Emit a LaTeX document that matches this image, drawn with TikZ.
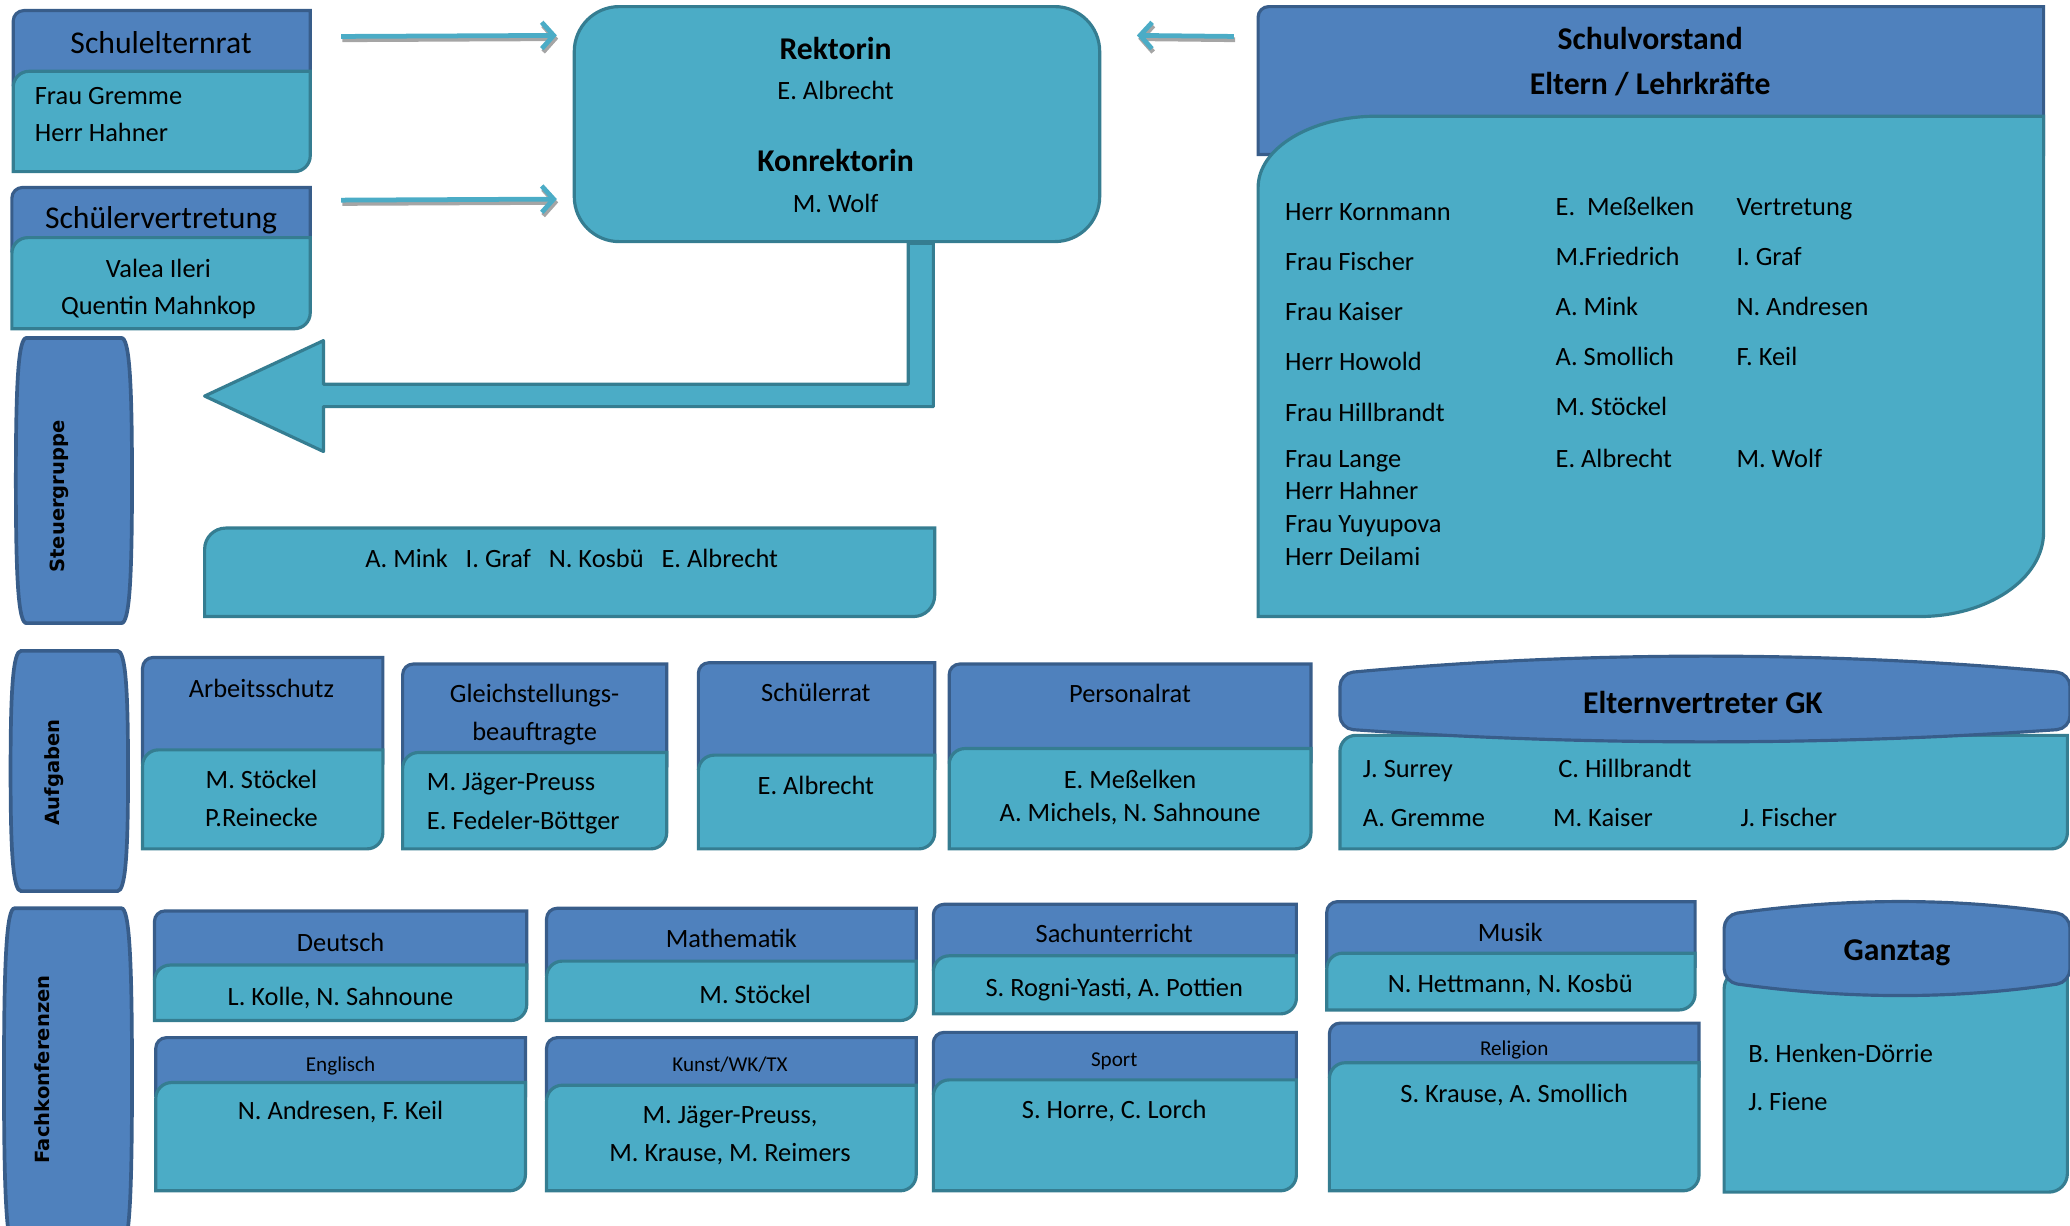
\documentclass[tikz,border=0pt]{standalone}
\usepackage{fontspec}
\setmainfont{Carlito}
\newfontfamily\pillfont{DejaVu Sans}
\usetikzlibrary{arrows.meta,fit}
\definecolor{hdblue}{HTML}{4F81BD}
\definecolor{hdline}{HTML}{385D8A}
\definecolor{bdteal}{HTML}{4BACC6}
\definecolor{bdline}{HTML}{357D91}
\definecolor{shade}{HTML}{A5A5A5}
\frenchspacing
\newcommand{\tabbody}[5]{\draw[bodybox] (#1,#4) -- (#1,{#2+#5}) arc[start angle=180,end angle=270,radius=#5] -- (#3,#2) -- (#3,{#4-#5}) arc[start angle=0,end angle=90,radius=#5] -- cycle;}
\newcommand{\tabbox}[6]{%
  \draw[headbox] (#2,{#5+10}) -- (#2,{#3+8}) arc[start angle=180,end angle=270,radius=8] -- (#4,#3) -- (#4,{#5+10}) -- cycle;
  \tabbody{#2}{#5}{#4}{#6}{12}
  \node[fit={(#2,#3) (#4,#6)},inner sep=0pt] (#1) {};}
\newcommand{\pillshape}[4]{\draw[pillbox] ({#1+8},#2) -- ({#3-8},#2) .. controls ({#3-2},#2) and (#3,{#2+(#4-#2)*0.15}) .. (#3,{(#2+#4)/2}) .. controls (#3,{#4-(#4-#2)*0.15}) and ({#3-2},#4) .. ({#3-8},#4) -- ({#1+8},#4) .. controls ({#1+2},#4) and (#1,{#4-(#4-#2)*0.15}) .. (#1,{(#2+#4)/2}) .. controls (#1,{#2+(#4-#2)*0.15}) and ({#1+2},#2) .. ({#1+8},#2) -- cycle;}
\begin{document}
\begin{tikzpicture}[x=0.5pt,y=-0.5pt,
    headbox/.style={fill=hdblue,draw=hdline,line width=1.2pt},
    bodybox/.style={fill=bdteal,draw=bdline,line width=1.2pt},
    pillbox/.style={fill=hdblue,draw=hdline,line width=1.4pt},
    rektorbox/.style={bodybox,rounded corners=17pt,minimum width=199pt,minimum height=89pt,inner sep=0pt},
    txt/.style={inner sep=0pt,text height=7.5pt,text depth=1.5pt,font=\fontsize{10}{12}\selectfont},
    lft/.style={txt,anchor=west},
    ttl/.style={inner sep=0pt,text height=9pt,text depth=1.8pt,font=\fontsize{12}{14}\selectfont},
    btl/.style={ttl,font=\bfseries\fontsize{12}{14}\selectfont},
    sml/.style={inner sep=0pt,text height=6pt,text depth=1.2pt,font=\fontsize{8}{10}\selectfont},
    piltxt/.style={rotate=90,inner sep=0pt,font=\pillfont\bfseries\fontsize{7.4}{9}\selectfont},
    linkarrow/.style={draw=bdteal,line width=1.8pt,-{Straight Barb[length=4.5pt,width=10pt]}},
    linkshadow/.style={draw=shade,line width=1.8pt,-{Straight Barb[length=4.5pt,width=10pt]}},
    blockarrow/.style={fill=bdteal,draw=bdline,line width=1.2pt,line join=round}]
  \useasboundingbox (0,0) rectangle (1568,928);
  \clip (0,0) rectangle (1568,928);

  \tabbox{elternrat}{10}{8}{235}{54}{130}
  \node[ttl] (elternrat-t) at (122,33) {Schulelternrat};
  \node[lft] (gremme) at (26,73) {Frau Gremme};
  \node[lft] (hahner) at (26,101) {Herr Hahner};

  \tabbox{schuelerv}{9}{142}{235}{180}{249}
  \node[ttl] (schuelerv-t) at (122,166) {Schülervertretung};
  \node[txt] (ileri) at (120,204) {Valea Ileri};
  \node[txt] (mahnkop) at (120,232) {Quentin Mahnkop};

  \node[rektorbox] (rektor) at (634,94) {};
  \node[btl] (rektorin) at (633,38) {Rektorin};
  \node[txt] (albrecht) at (633,69) {E. Albrecht};
  \node[btl] (konrektorin) at (633,123) {Konrektorin};
  \node[txt] (wolf) at (633,155) {M. Wolf};

  \coordinate (sgtip) at (155,300);
  \draw[blockarrow] ([xshift=27pt]rektor.south) -- ([xshift=36.5pt]rektor.south) |- ([shift={(90,8)}]sgtip) -- ([shift={(90,42)}]sgtip) -- (sgtip) -- ([shift={(90,-42)}]sgtip) -- ([shift={(90,-9)}]sgtip) -| ([xshift=27pt]rektor.south) -- cycle;

  \draw[headbox] (953,117) -- (953,13) arc[start angle=180,end angle=270,radius=8] -- (1548,5) -- (1548,117) -- cycle;
  \draw[bodybox] (953,467) -- (953,142) arc[start angle=180,end angle=270,x radius=90,y radius=54] -- (1548,88) -- (1548,403) arc[start angle=0,end angle=90,x radius=94,y radius=64] -- cycle;
  \node[fit={(953,5) (1548,467)},inner sep=0pt] (vorstand) {};
  \node[btl] (vorstand-t) at (1250,30) {Schulvorstand};
  \node[btl] (vorstand-s) at (1250,64) {Eltern / Lehrkräfte};
  \node[lft] (kornmann) at (973,161) {Herr Kornmann};
  \node[lft] (fischer) at (973,199) {Frau Fischer};
  \node[lft] (kaiser) at (973,237) {Frau Kaiser};
  \node[lft] (howold) at (973,275) {Herr Howold};
  \node[lft] (hillbrandt) at (973,313) {Frau Hillbrandt};
  \node[lft] (lange) at (973,348) {Frau Lange};
  \node[lft] (vs-hahner) at (973,372) {Herr Hahner};
  \node[lft] (yuyupova) at (973,397) {Frau Yuyupova};
  \node[lft] (deilami) at (973,422) {Herr Deilami};
  \node[lft] (messelken) at (1178,157) {E.\ \ Meßelken};
  \node[lft] (friedrich) at (1178,195) {M.Friedrich};
  \node[lft] (vs-mink) at (1178,233) {A. Mink};
  \node[lft] (vs-smollich) at (1178,271) {A. Smollich};
  \node[lft] (vs-stoeckel) at (1178,309) {M. Stöckel};
  \node[lft] (vs-albrecht) at (1178,348) {E. Albrecht};
  \node[lft] (vertretung) at (1315,157) {Vertretung};
  \node[lft] (vs-graf) at (1315,195) {I. Graf};
  \node[lft] (vs-andresen) at (1315,233) {N. Andresen};
  \node[lft] (vs-keil) at (1315,271) {F. Keil};
  \node[lft] (vs-wolf) at (1315,348) {M. Wolf};

  \draw[linkshadow] ([shift={(24,22.5)}]elternrat.north east) -- ([shift={(-11,25.5)}]rektor.north west);
  \draw[linkarrow] ([shift={(23,20)}]elternrat.north east) -- ([shift={(-12,23)}]rektor.north west);
  \draw[linkshadow] ([shift={(24,12.5)}]schuelerv.north east) -- ([shift={(-11,149.5)}]rektor.north west);
  \draw[linkarrow] ([shift={(23,10)}]schuelerv.north east) -- ([shift={(-12,147)}]rektor.north west);
  \draw[linkshadow] ([shift={(-17,25.5)}]vorstand.north west) -- ([shift={(28,25.5)}]rektor.north east);
  \draw[linkarrow] ([shift={(-18,23)}]vorstand.north west) -- ([shift={(27,23)}]rektor.north east);

  \pillshape{12}{256}{100}{472}
  \node[piltxt] (steuer) at (45,376) {Steuergruppe};
  \tabbody{155}{400}{708}{467}{16}
  \node[txt] (steuer-m) at (433,424) {A. Mink~~~I. Graf~~~N. Kosbü~~~E. Albrecht};

  \pillshape{8}{493}{97}{675}
  \node[piltxt] (aufgaben) at (41,585) {Aufgaben};
  \tabbox{arbeit}{108}{498}{290}{568}{643}
  \node[txt] (arbeit-t) at (198,522) {Arbeitsschutz};
  \node[txt] (arbeit-a) at (198,591) {M. Stöckel};
  \node[txt] (arbeit-b) at (198,620) {P.Reinecke};
  \tabbox{gleich}{305}{503}{505}{570}{643}
  \node[txt] (gleich-t) at (405,526) {Gleichstellungs-};
  \node[txt] (gleich-u) at (405,555) {beauftragte};
  \node[lft] (gleich-a) at (323,593) {M. Jäger-Preuss};
  \node[lft] (gleich-b) at (323,622) {E. Fedeler-Böttger};
  \tabbox{srat}{529}{502}{708}{572}{643}
  \node[txt] (srat-t) at (618,525) {Schülerrat};
  \node[txt] (srat-a) at (618,596) {E. Albrecht};
  \tabbox{prat}{719}{503}{993}{567}{643}
  \node[txt] (prat-t) at (856,526) {Personalrat};
  \node[txt] (prat-a) at (856,591) {E. Meßelken};
  \node[txt] (prat-b) at (856,616) {A. Michels, N. Sahnoune};
  \tabbody{1015}{557}{1566}{643}{12}
  \draw[headbox,rounded corners=5pt] (1015,510) .. controls (1200,493) and (1385,493) .. (1568,510) -- (1568,552) .. controls (1385,565) and (1200,565) .. (1015,552) -- cycle;
  \node[fit={(1015,500) (1568,643)},inner sep=0pt] (elterngk) {};
  \node[btl] (elterngk-t) at (1290,533) {Elternvertreter GK};
  \node[lft] (surrey) at (1032,583) {J. Surrey};
  \node[lft] (c-hillbrandt) at (1180,583) {C. Hillbrandt};
  \node[lft] (a-gremme) at (1032,620) {A. Gremme};
  \node[lft] (m-kaiser) at (1176,620) {M. Kaiser};
  \node[lft] (j-fischer) at (1318,620) {J. Fischer};

  \pillshape{3}{688}{100}{945}
  \node[piltxt] (fachkonf) at (32,810) {Fachkonferenzen};
  \tabbox{deutsch}{117}{690}{399}{731}{773}
  \node[txt] (deutsch-t) at (258,715) {Deutsch};
  \node[txt] (deutsch-a) at (258,756) {L. Kolle, N. Sahnoune};
  \tabbox{mathe}{414}{688}{694}{728}{773}
  \node[txt] (mathe-t) at (554,712) {Mathematik};
  \node[txt] (mathe-a) at (572,754) {M. Stöckel};
  \tabbox{sachu}{707}{685}{982}{724}{768}
  \node[txt] (sachu-t) at (844,708) {Sachunterricht};
  \node[txt] (sachu-a) at (844,749) {S. Rogni-Yasti, A. Pottien};
  \tabbox{musik}{1005}{683}{1284}{722}{765}
  \node[txt] (musik-t) at (1144,707) {Musik};
  \node[txt] (musik-a) at (1144,746) {N. Hettmann, N. Kosbü};
  \tabbox{englisch}{118}{786}{398}{820}{902}
  \node[sml] (englisch-t) at (258,807) {Englisch};
  \node[txt] (englisch-a) at (258,842) {N. Andresen, F. Keil};
  \tabbox{kunst}{414}{786}{694}{822}{902}
  \node[sml] (kunst-t) at (553,807) {Kunst/WK/TX};
  \node[txt] (kunst-a) at (553,845) {M. Jäger-Preuss,};
  \node[txt] (kunst-b) at (553,874) {M. Krause, M. Reimers};
  \tabbox{sport}{707}{782}{982}{818}{902}
  \node[sml] (sport-t) at (844,803) {Sport};
  \node[txt] (sport-a) at (844,841) {S. Horre, C. Lorch};
  \tabbox{religion}{1007}{775}{1287}{805}{902}
  \node[sml] (religion-t) at (1147,795) {Religion};
  \node[txt] (religion-a) at (1147,829) {S. Krause, A. Smollich};
  \tabbody{1306}{735}{1566}{903}{14}
  \draw[headbox,rounded corners=5pt] (1306,693) .. controls (1400,680) and (1480,680) .. (1568,693) -- (1568,744) .. controls (1480,757) and (1400,757) .. (1306,744) -- cycle;
  \node[fit={(1306,684) (1568,903)},inner sep=0pt] (ganztag) {};
  \node[btl] (ganztag-t) at (1437,720) {Ganztag};
  \node[lft] (henken) at (1324,799) {B. Henken-Dörrie};
  \node[lft] (fiene) at (1324,835) {J. Fiene};
\end{tikzpicture}
\end{document}
